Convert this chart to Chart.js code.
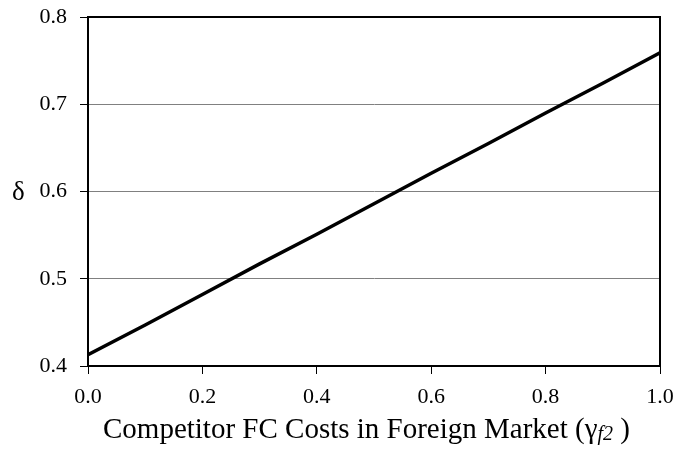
<!DOCTYPE html>
<html>
<head>
<meta charset="utf-8">
<script src="https://cdn.jsdelivr.net/npm/chart.js@4"></script>
<style>
  body { margin: 0; background: #fff; }
  .wrap { position: relative; width: 695px; height: 450px; font-family: 'Liberation Serif', 'Times New Roman', serif; color: #000; }
  .ytitle { position: absolute; left: 12px; top: 178px; font-size: 27px; line-height: 1; }
  .xtitle { position: absolute; left: 0; width: 733px; top: 414px; text-align: center; font-size: 29px; line-height: 1; white-space: nowrap; }
  .xtitle i { font-size: 20px; position: relative; top: 2px; }
</style>
</head>
<body>
<div class="wrap">
  <canvas id="chart" width="695" height="450"></canvas>
  <div class="ytitle">δ</div>
  <div class="xtitle">Competitor FC Costs in Foreign Market (γ<i>f2</i> )</div>
</div>
<script>
// values
const costs = [0.0, 0.1, 0.2, 0.3, 0.4, 0.5, 0.6, 0.7, 0.8, 0.9, 1.0];
const delta = [0.413, 0.447, 0.482, 0.517, 0.551, 0.586, 0.621, 0.655, 0.690, 0.724, 0.759];
const xTicks = [0.0, 0.2, 0.4, 0.6, 0.8, 1.0];
const yTicks = [0.4, 0.5, 0.6, 0.7, 0.8];

const tickFont = { family: "'Liberation Serif', serif", size: 22 };

// box round the plot area
const frame = {
  id: 'frame',
  afterDraw(chart) {
    const { ctx, chartArea: a } = chart;
    ctx.save();
    ctx.strokeStyle = '#000';
    ctx.lineWidth = 2;
    ctx.strokeRect(a.left, a.top, a.right - a.left, a.bottom - a.top);
    ctx.restore();
  }
};

new Chart(document.getElementById('chart'), {
  type: 'line',
  data: {
    datasets: [{
      data: costs.map((c, i) => ({ x: c, y: delta[i] })),
      borderColor: '#000',
      borderWidth: 3.5,
      pointRadius: 0,
      tension: 0
    }]
  },
  options: {
    responsive: false,
    animation: false,
    layout: { padding: { top: 17, right: 35, bottom: 0, left: 0 } },
    plugins: { legend: { display: false }, tooltip: { enabled: false } },
    scales: {
      x: {
        type: 'linear',
        min: 0, max: 1,
        afterBuildTicks: s => { s.ticks = xTicks.map(v => ({ value: v })); },
        afterFit: s => { s.height = 84; s.paddingLeft = 0; s.paddingRight = 0; },
        ticks: { color: '#000', font: tickFont, padding: 10, maxRotation: 0, callback: v => v.toFixed(1) },
        grid: { drawOnChartArea: false, tickLength: 8, tickColor: '#000', tickWidth: 1 },
        border: { color: '#000', width: 2 }
      },
      y: {
        min: 0.4, max: 0.8,
        afterBuildTicks: s => { s.ticks = yTicks.map(v => ({ value: v })); },
        afterFit: s => { s.width = 88; s.paddingTop = 0; s.paddingBottom = 0; },
        ticks: { color: '#000', font: tickFont, padding: 13, callback: v => v.toFixed(1) },
        grid: { color: '#808080', lineWidth: 1, tickLength: 8, tickColor: '#000', tickWidth: 1 },
        border: { color: '#000', width: 2 }
      }
    }
  },
  plugins: [frame]
});
</script>
</body>
</html>
